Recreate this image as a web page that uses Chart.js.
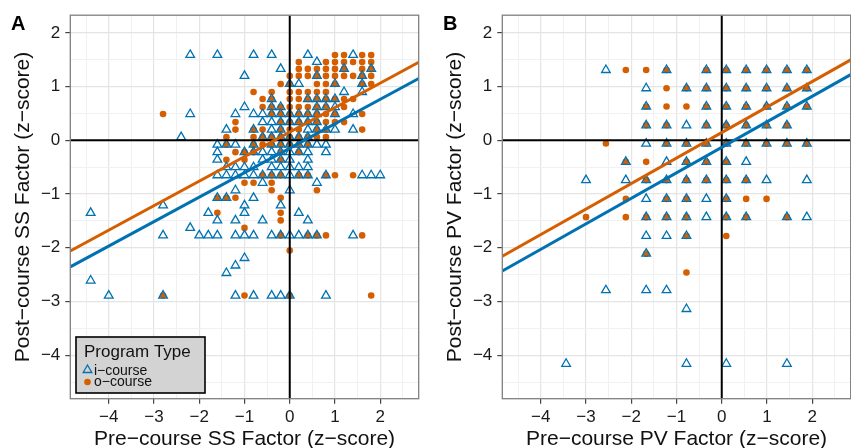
<!DOCTYPE html>
<html><head><meta charset="utf-8">
<script src="https://cdn.jsdelivr.net/npm/chart.js@4.4.1/dist/chart.umd.min.js"></script>
<style>
html,body{margin:0;padding:0;background:#fff;overflow:hidden;width:851px;height:448px;}
#wrap{position:relative;width:851px;height:448px;overflow:hidden;}
canvas{position:absolute;top:0;}
#cA{left:0}
#cB{left:432px}
</style></head><body><div id="wrap"><canvas id="cA" width="425" height="458"></canvas><canvas id="cB" width="425" height="458"></canvas></div>
<script>
// ---------- DATA ----------
const seriesNames = ["i\u2212course", "o\u2212course"];
const xTickLabels = [-4, -3, -2, -1, 0, 1, 2];
const yTickLabels = [-4, -3, -2, -1, 0, 1, 2];

// Panel A: SS factor, columns of [pre-course x, [post-course y values]]
const ssICourse = [
  [-4.4,[-1.35,-2.61]],
  [-4.0,[-2.89]],
  [-2.8,[-1.21,-1.77,-2.89]],
  [-2.4,[0.06]],
  [-2.2,[1.59,0.49,-1.63]],
  [-2.0,[-1.77]],
  [-1.8,[-1.35,-1.77]],
  [-1.6,[1.59,-0.08,-0.22,-0.36,-0.65,-1.07,-1.49,-1.77]],
  [-1.4,[0.20,-0.08,-0.50,-0.65,-1.07,-2.47]],
  [-1.2,[0.49,-0.08,-0.50,-0.65,-0.93,-1.49,-1.77,-2.33,-2.89]],
  [-1.0,[1.20,0.62,-0.22,-0.50,-0.65,-1.21,-1.35,-1.77,-2.19]],
  [-0.8,[1.59,0.49,0.20,-0.08,-0.22,-0.50,-0.65,-1.07,-1.77,-2.89]],
  [-0.6,[0.49,0.34,0.06,-0.22,-0.36,-0.65,-0.79,-1.49]],
  [-0.4,[1.59,0.77,0.62,0.49,0.34,0.20,0.06,-0.08,-0.22,-0.36,-0.50,-0.65,-1.77,-2.89]],
  [-0.2,[1.33,0.62,0.49,0.34,0.20,0.06,-0.08,-0.22,-0.36,-0.50,-0.65,-1.21,-1.77,-2.89]],
  [0.0,[1.05,0.49,0.34,0.06,-0.08,-0.22,-0.36,-0.50,-0.65,-0.93,-1.77,-2.89]],
  [0.2,[1.05,0.49,0.34,0.06,-0.08,-0.22,-0.50,-0.65,-1.35,-1.77]],
  [0.4,[1.59,0.77,0.49,0.34,0.20,0.06,-0.08,-0.22,-0.36,-0.50,-0.65,-1.49,-1.77]],
  [0.6,[1.46,1.20,0.77,0.62,0.49,0.34,0.20,-0.08,-0.79,-1.77]],
  [0.8,[0.77,0.62,0.20,-0.08,-0.22,-0.65,-2.89]],
  [1.0,[1.05,0.77,0.62,0.49,0.20]],
  [1.2,[1.33,0.90]],
  [1.4,[1.59,0.49,0.20,-1.77]],
  [1.6,[1.20,1.05,0.90,-0.65]],
  [1.8,[1.33,-0.65]],
  [2.0,[-0.65]]
];
const ssOCourse = [
  [-2.8,[0.49,-2.89]],
  [-1.6,[-1.07,-1.35]],
  [-1.4,[0.06,-0.08,-0.36,-1.07]],
  [-1.2,[0.34,0.20,-0.22,-1.07]],
  [-1.0,[-0.22,-0.36,-0.79,-1.63,-2.89]],
  [-0.8,[0.90,0.20,0.06,-0.08,-0.22,-0.79]],
  [-0.6,[0.77,0.62,0.20,0.06,-0.08,-0.65]],
  [-0.4,[0.90,0.77,0.62,0.49,0.06,-0.08,-0.65,-0.79,-0.93]],
  [-0.2,[1.05,0.62,0.49,0.34,0.20,0.06,-0.08,-0.22,-0.36,-0.65,-1.07,-1.35,-1.49,-1.77]],
  [0.0,[1.20,1.05,0.90,0.77,0.62,0.49,0.34,0.20,0.06,-0.08,-2.05,-2.89]],
  [0.2,[1.46,1.33,1.20,0.90,0.77,0.62,0.49,0.34,0.20,0.06,-0.08,-0.22,-0.65]],
  [0.4,[1.33,1.20,0.90,0.77,0.62,0.49,0.34,0.06,-0.08,-0.65,-1.77]],
  [0.6,[1.33,1.20,1.05,0.90,0.77,0.62,0.49,0.34,0.20,0.06,-0.93,-1.77]],
  [0.8,[1.46,1.33,1.20,1.05,0.90,0.77,0.62,0.49,0.34,0.20,0.06,-0.65,-1.77]],
  [1.0,[1.59,1.46,1.33,1.20,1.05,0.77,0.49,0.34,-0.65]],
  [1.2,[1.59,1.46,1.33,1.20,0.77,0.62,0.34]],
  [1.4,[1.46,1.20,0.77,-0.65]],
  [1.6,[1.59,1.46,1.33,1.20,1.05,0.49,0.20,-1.77]],
  [1.8,[1.59,1.46,1.33,1.20,1.05,-2.89]]
];
// Panel B: PV factor, rows of [post-course y, [pre-course x values]]
const pvICourse = [
  [1.31,[-2.56,-1.22,-0.34,0.10,0.54,0.99,1.44,1.88]],
  [0.97,[-1.67,-0.78,-0.34,0.10,0.54,0.99,1.44,1.88]],
  [0.63,[-1.67,-0.34,0.10,0.54,0.99,1.44,1.88]],
  [0.28,[-1.67,-1.22,-0.78,-0.34,0.10,0.54,0.99,1.44]],
  [-0.06,[-1.67,-1.22,-0.78,-0.34,0.10,0.54,0.99,1.44,1.88]],
  [-0.40,[-2.12,-1.22,-0.78,-0.34,0.10,0.54]],
  [-0.74,[-3.00,-2.12,-1.67,-1.22,-0.78,-0.34,0.10,0.54,0.99,1.88]],
  [-1.09,[-1.67,-1.22,-0.78,-0.34,0.10]],
  [-1.43,[-1.67,-1.22,-0.78,-0.34,0.10,0.54,1.44,1.88]],
  [-1.78,[-1.67,-1.22,-0.78]],
  [-2.11,[-1.67]],
  [-2.79,[-2.56,-1.67,-1.22]],
  [-3.14,[-0.78]],
  [-4.16,[-3.44,-0.78,0.10,1.44]]
];
const pvOCourse = [
  [1.31,[-2.12,-1.67,-1.22,-0.34,0.10,0.54,0.99,1.44,1.88]],
  [0.97,[-1.22,-0.78,-0.34,0.10,0.54,0.99,1.44,1.88]],
  [0.63,[-1.67,-1.22,-0.78,-0.34,0.10,0.54,0.99,1.44,1.88]],
  [0.28,[-1.67,-1.22,-0.34,0.10,0.54,0.99,1.44]],
  [-0.06,[-2.56,-1.22,-0.78,-0.34,0.10,0.54,0.99,1.44,1.88]],
  [-0.40,[-2.12,-1.67,-0.78,-0.34,0.10]],
  [-0.74,[-1.67,-1.22,-0.78,-0.34,0.10,0.54]],
  [-1.09,[-2.12,-1.22,-0.78,0.10,0.54,0.99]],
  [-1.43,[-3.00,-2.12,-1.67,-1.22,-0.78,0.10,0.54,1.44]],
  [-1.78,[-0.78,0.10]],
  [-2.11,[-1.67]],
  [-2.46,[-0.78]]
];
// Fitted regression lines [i-course, o-course]
const ssSlope = [0.4555, 0.4565];
const ssIntercept = [-0.146, 0.154];
const pvSlope = [0.4747, 0.4750];
const pvIntercept = [-0.130, 0.145];
const xRange = [-4.85, 2.85];
const yRange = [-4.81, 2.33];

// ---------- HELPERS ----------
const COL_I = '#0072B2', COL_O = '#D55E00';
const FONT = "'Liberation Sans', Arial, Helvetica, sans-serif";
const fromCols = cols => cols.flatMap(([x, ys]) => ys.map(y => ({x, y})));
const fromRows = rows => rows.flatMap(([y, xs]) => xs.map(x => ({x, y})));
const fit = (s, b) => xRange.map(x => ({x, y: b + s * x}));
const fmt = v => xTickLabels.includes(v) ? (v < 0 ? '\u2212' + Math.abs(v) : String(v)) : '';
const fmtY = v => yTickLabels.includes(v) ? (v < 0 ? '\u2212' + Math.abs(v) : String(v)) : '';
const isMajor = v => Number.isInteger(v);

function axis(title, isX) {
  return {
    type: 'linear',
    min: isX ? xRange[0] : yRange[0],
    max: isX ? xRange[1] : yRange[1],
    afterFit: s => { if (isX) s.height = 59.3; else s.width = 70.3; },
    border: {display: false},
    grid: {
      color: c => isMajor(c.tick.value) ? '#E4E4E4' : '#F1F1F1',
      lineWidth: c => isMajor(c.tick.value) ? 1.2 : 1,
      tickColor: c => isMajor(c.tick.value) ? '#444' : 'rgba(0,0,0,0)',
      tickLength: 5,
      tickWidth: 1.2
    },
    ticks: {
      stepSize: 0.5, includeBounds: false, autoSkip: false, maxRotation: 0,
      padding: isX ? 3 : 5,
      color: '#1a1a1a',
      font: {family: FONT, size: 17},
      callback: isX ? fmt : fmtY
    },
    title: {
      display: true, text: title, color: '#111',
      font: {family: FONT, size: 21},
      padding: isX ? {top: 0, bottom: 6} : {top: 11, bottom: 0}
    }
  };
}

function makeChart(id, panel, xTitle, yTitle, iPts, oPts, slope, icpt, withLegend) {
  const framePlugin = {
    id: 'frame' + panel,
    afterDraw(chart) {
      const {ctx, chartArea: a} = chart;
      ctx.save();
      ctx.strokeStyle = '#7F7F7F'; ctx.lineWidth = 1.3;
      ctx.strokeRect(a.left, a.top, a.right - a.left, a.bottom - a.top);
      ctx.fillStyle = '#000';
      ctx.font = 'bold 20px ' + FONT;
      ctx.textBaseline = 'alphabetic'; ctx.textAlign = 'left';
      ctx.fillText(panel, 11, 30);
      if (withLegend) {
        ctx.fillStyle = '#D3D3D3';
        ctx.fillRect(76, 337, 129, 56);
        ctx.strokeStyle = '#000'; ctx.lineWidth = 1.6;
        ctx.strokeRect(76, 337, 129, 56);
        ctx.fillStyle = '#111';
        ctx.font = '17px ' + FONT;
        ctx.fillText('Program Type', 84, 357);
        // triangle symbol
        const r = 5, cx = 87.5, cy = 370;
        ctx.beginPath();
        ctx.moveTo(cx, cy - r);
        ctx.lineTo(cx + r * 0.866, cy + r / 2);
        ctx.lineTo(cx - r * 0.866, cy + r / 2);
        ctx.closePath();
        ctx.strokeStyle = COL_I; ctx.lineWidth = 1.3; ctx.stroke();
        ctx.beginPath(); ctx.arc(87.5, 382, 3.3, 0, Math.PI * 2);
        ctx.fillStyle = COL_O; ctx.fill();
        ctx.fillStyle = '#111';
        ctx.font = '14px ' + FONT;
        ctx.textBaseline = 'middle';
        ctx.fillText(seriesNames[0], 94, 371);
        ctx.fillText(seriesNames[1], 94, 382.5);
      }
      ctx.restore();
    }
  };
  return new Chart(document.getElementById(id), {
    type: 'scatter',
    data: {
      datasets: [
        {label: seriesNames[1] + ' fit', data: fit(slope[1], icpt[1]), showLine: true, borderColor: COL_O, borderWidth: 3, pointRadius: 0, order: 0},
        {label: seriesNames[0] + ' fit', data: fit(slope[0], icpt[0]), showLine: true, borderColor: COL_I, borderWidth: 3, pointRadius: 0, order: 0},
        {label: 'zero x', data: [{x: 0, y: yRange[0]}, {x: 0, y: yRange[1]}], showLine: true, borderColor: '#000', borderWidth: 2, pointRadius: 0, order: 1},
        {label: 'zero y', data: [{x: xRange[0], y: 0}, {x: xRange[1], y: 0}], showLine: true, borderColor: '#000', borderWidth: 2, pointRadius: 0, order: 1},
        {label: seriesNames[0], data: iPts, pointStyle: 'triangle', pointRadius: 5, borderColor: COL_I, borderWidth: 1.3, backgroundColor: 'rgba(0,0,0,0)', order: 2},
        {label: seriesNames[1], data: oPts, pointStyle: 'circle', pointRadius: 3.3, borderWidth: 0, backgroundColor: COL_O, order: 3}
      ]
    },
    options: {
      responsive: false, animation: false, devicePixelRatio: 1,
      layout: {padding: {top: 14.7, right: 3, left: 0, bottom: 0}},
      plugins: {legend: {display: false}, tooltip: {enabled: false}},
      scales: {x: axis(xTitle, true), y: axis(yTitle, false)}
    },
    plugins: [framePlugin]
  });
}

makeChart('cA', 'A', 'Pre\u2212course SS Factor (z\u2212score)', 'Post\u2212course SS Factor (z\u2212score)',
  fromCols(ssICourse), fromCols(ssOCourse), ssSlope, ssIntercept, true);
makeChart('cB', 'B', 'Pre\u2212course PV Factor (z\u2212score)', 'Post\u2212course PV Factor (z\u2212score)',
  fromRows(pvICourse), fromRows(pvOCourse), pvSlope, pvIntercept, false);
</script></body></html>
